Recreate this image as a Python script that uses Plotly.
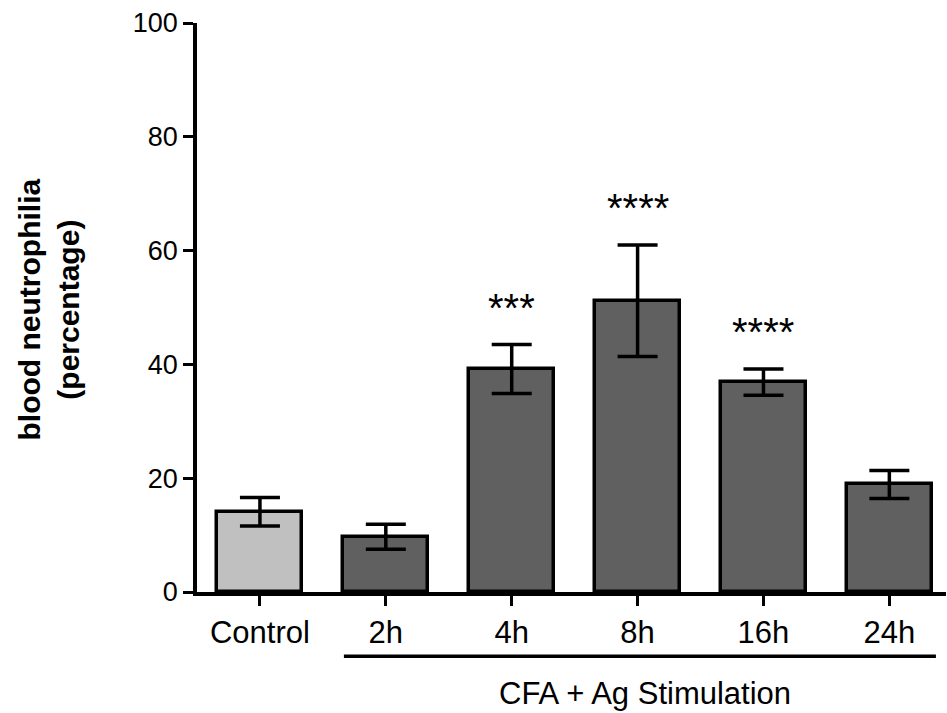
import plotly.graph_objects as go

categories = ["Control", "2h", "4h", "8h", "16h", "24h"]
means = [14.1, 9.7, 39.2, 51.2, 36.9, 18.9]
errors = [2.5, 2.2, 4.3, 9.8, 2.3, 2.45]
bar_colors = ["#c0c0c0", "#606060", "#606060", "#606060", "#606060", "#606060"]
sig_labels = ["", "", "***", "****", "****", ""]
y_ticks = [0, 20, 40, 60, 80, 100]

FONT = "Liberation Sans, Arial, sans-serif"
xpos = list(range(len(categories)))

fig = go.Figure()
fig.add_trace(go.Bar(
    x=xpos, y=means, width=0.675,
    marker=dict(color=bar_colors, line=dict(color="black", width=3.5)),
    error_y=dict(type="data", array=errors, visible=True, color="black",
                 thickness=3.5, width=20),
    showlegend=False, hoverinfo="skip",
))

for i, s in enumerate(sig_labels):
    if s:
        fig.add_annotation(x=xpos[i], y=means[i] + errors[i] + 7.3, text=s,
                           showarrow=False, xref="x", yref="y",
                           xanchor="center", yanchor="middle", yshift=-5,
                           font=dict(family=FONT, size=40, color="black"))

# group bracket under the time points
fig.add_shape(type="line", xref="x", yref="paper", x0=0.667, x1=5.37,
              y0=-0.113, y1=-0.113, line=dict(color="black", width=3.5))
fig.add_annotation(x=3.06, y=-0.179, xref="x", yref="paper",
                   text="CFA + Ag Stimulation", showarrow=False,
                   xanchor="center", yanchor="middle",
                   font=dict(family=FONT, size=31, color="black"))

fig.add_annotation(x=-0.198, y=0.496, xref="paper", yref="paper",
                   text="<b>blood neutrophilia<br>(percentage)</b>",
                   textangle=-90, showarrow=False,
                   xanchor="center", yanchor="middle",
                   font=dict(family=FONT, size=30, color="black"))

fig.update_layout(
    width=947, height=713,
    margin=dict(l=197, r=1, t=23, b=121),
    plot_bgcolor="white", paper_bgcolor="white",
    bargap=0,
    xaxis=dict(range=[-0.5, 5.45], tickmode="array", tickvals=xpos,
               ticktext=categories, showline=True, linecolor="black",
               linewidth=3.5, ticks="outside", ticklen=10, tickwidth=3,
               tickcolor="black", showgrid=False, zeroline=False,
               tickfont=dict(family=FONT, size=31, color="black")),
    yaxis=dict(range=[0, 100], tickmode="array", tickvals=y_ticks,
               showline=True, linecolor="black", linewidth=3.5,
               ticks="outside", ticklen=10, tickwidth=3, tickcolor="black",
               showgrid=False, zeroline=False,
               tickfont=dict(family=FONT, size=27, color="black")),
)

fig.write_html("out.html")
